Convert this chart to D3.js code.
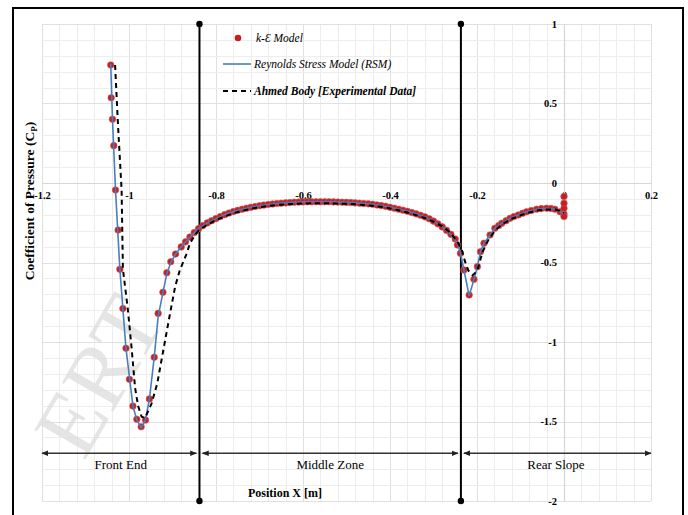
<!DOCTYPE html>
<meta charset="utf-8">
<style>
body { margin: 0; background: #fff; }
text { font-family: "Liberation Serif", "Times New Roman", serif; fill: #000; }
.grid line { stroke: #ededed; shape-rendering: crispEdges; }
.grid line.major { stroke: #e0e0e0; }
.axis path { stroke: #d6d6d6; stroke-width: 1.2px; }
.axis .tick text { font-size: 10.5px; font-weight: bold; }
.zone-label { font-size: 13px; }
.legend text { font-size: 11.5px; font-style: italic; }
</style>
<svg width="688" height="515"></svg>
<script src="https://d3js.org/d3.v7.min.js"></script>
<script>

var svg = d3.select("svg");

// tick labels
var xTicks = [-1.2, -1, -0.8, -0.6, -0.4, -0.2, 0, 0.2];
var yTicks = [1, 0.5, 0, -0.5, -1, -1.5, -2];

// zones of the body (x in m)
var zoneNames = ["Front End", "Middle Zone", "Rear Slope"];
var zoneEdges = [-1.2, -0.838, -0.237, 0.2];

// k-epsilon model (dots)
var keX = [-1.042, -1.041, -1.038, -1.035, -1.031, -1.025, -1.021, -1.014, -1.007, -0.999,
  -0.991, -0.982, -0.972, -0.962, -0.953, -0.942, -0.933, -0.922, -0.913, -0.904, -0.893,
  -0.88, -0.87, -0.86, -0.85, -0.84, -0.83, -0.82, -0.81, -0.80, -0.79, -0.78, -0.77, -0.76,
  -0.75, -0.74, -0.73, -0.72, -0.71, -0.70, -0.69, -0.68, -0.67, -0.66, -0.65, -0.64, -0.63,
  -0.62, -0.61, -0.60, -0.59, -0.58, -0.57, -0.56, -0.55, -0.54, -0.53, -0.52, -0.51, -0.50,
  -0.49, -0.48, -0.47, -0.46, -0.45, -0.44, -0.43, -0.42, -0.41, -0.40, -0.39, -0.38, -0.37,
  -0.36, -0.35, -0.34, -0.33, -0.32, -0.31, -0.30, -0.29, -0.28, -0.27, -0.26, -0.25, -0.245,
  -0.238, -0.23, -0.218, -0.207, -0.199, -0.192, -0.184, -0.17, -0.159, -0.15, -0.143, -0.133,
  -0.124, -0.115, -0.105, -0.095, -0.086, -0.075, -0.063, -0.052, -0.04, -0.03, -0.021, -0.009,
  0, 0, 0, 0, 0];
var keCp = [0.742, 0.536, 0.401, 0.235, -0.044, -0.296, -0.543, -0.79, -1.039, -1.235,
  -1.403, -1.486, -1.533, -1.491, -1.358, -1.096, -0.82, -0.687, -0.564, -0.495, -0.447,
  -0.402, -0.370, -0.340, -0.312, -0.287, -0.268, -0.251, -0.237, -0.224, -0.211, -0.199, -0.189, -0.180,
  -0.172, -0.165, -0.159, -0.153, -0.148, -0.143, -0.139, -0.135, -0.132, -0.129, -0.127, -0.125, -0.123,
  -0.121, -0.120, -0.119, -0.118, -0.118, -0.118, -0.118, -0.118, -0.118, -0.119, -0.120, -0.121, -0.122,
  -0.123, -0.125, -0.127, -0.129, -0.131, -0.134, -0.138, -0.142, -0.147, -0.153, -0.159, -0.165, -0.171,
  -0.178, -0.186, -0.194, -0.203, -0.213, -0.225, -0.240, -0.257, -0.276, -0.298, -0.323, -0.352, -0.39,
  -0.442, -0.547, -0.704, -0.606, -0.526, -0.432, -0.379, -0.327, -0.285, -0.268, -0.253, -0.237,
  -0.222, -0.211, -0.201, -0.190, -0.181, -0.173, -0.165, -0.161, -0.159, -0.160, -0.165, -0.181,
  -0.195, -0.211, -0.159, -0.127, -0.085];

// Reynolds Stress Model (solid line)
var rsmX = [-1.042, -1.038, -1.031, -1.021, -1.007, -0.991, -0.982, -0.972, -0.962, -0.953,
  -0.942, -0.933, -0.922, -0.913, -0.904, -0.893, -0.88, -0.86, -0.84, -0.82, -0.80, -0.78,
  -0.76, -0.74, -0.72, -0.70, -0.68, -0.66, -0.64, -0.62, -0.60, -0.58, -0.56, -0.54, -0.52,
  -0.50, -0.48, -0.46, -0.44, -0.42, -0.40, -0.38, -0.36, -0.34, -0.32, -0.30, -0.28, -0.26,
  -0.245, -0.238, -0.23, -0.218, -0.207, -0.199, -0.192, -0.184, -0.17, -0.159, -0.143, -0.124,
  -0.105, -0.086, -0.063, -0.04, -0.021, -0.009, 0];
var rsmCp = [0.75, 0.40, -0.044, -0.543, -1.039, -1.403, -1.49, -1.54, -1.49, -1.358,
  -1.096, -0.84, -0.69, -0.57, -0.50, -0.447, -0.402, -0.34, -0.287, -0.251, -0.224, -0.199,
  -0.18, -0.165, -0.153, -0.143, -0.135, -0.129, -0.125, -0.121, -0.119, -0.118, -0.118, -0.118, -0.120,
  -0.122, -0.125, -0.129, -0.134, -0.142, -0.153, -0.165, -0.178, -0.194, -0.213, -0.240, -0.276, -0.323,
  -0.38, -0.44, -0.547, -0.71, -0.606, -0.526, -0.432, -0.379, -0.327, -0.285, -0.253, -0.222,
  -0.201, -0.181, -0.165, -0.159, -0.165, -0.181, -0.195];

// Ahmed body experimental data (dashed line)
var expX = [-1.032, -1.025, -1.017, -1.014, -1.003, -0.994, -0.986, -0.979, -0.971, -0.963,
  -0.948, -0.935, -0.921, -0.907, -0.894, -0.883, -0.867, -0.86, -0.848, -0.84, -0.82, -0.80,
  -0.78, -0.76, -0.74, -0.72, -0.70, -0.68, -0.66, -0.64, -0.62, -0.60, -0.58, -0.56, -0.54,
  -0.52, -0.50, -0.48, -0.46, -0.44, -0.42, -0.40, -0.38, -0.36, -0.34, -0.32, -0.30, -0.28,
  -0.26, -0.245, -0.235, -0.228, -0.22, -0.21, -0.20, -0.194, -0.188, -0.18, -0.17, -0.155,
  -0.14, -0.12, -0.10, -0.08, -0.06, -0.04, -0.02, -0.01, 0];
var expCp = [0.742, 0.35, -0.044, -0.541, -0.786, -1.038, -1.289, -1.403, -1.47, -1.478,
  -1.386, -1.26, -1.05, -0.841, -0.652, -0.547, -0.442, -0.379, -0.327, -0.298, -0.262, -0.233,
  -0.21, -0.19, -0.175, -0.162, -0.152, -0.144, -0.138, -0.134, -0.131, -0.129, -0.128, -0.128, -0.128,
  -0.129, -0.131, -0.134, -0.138, -0.143, -0.15, -0.16, -0.172, -0.186, -0.202, -0.22, -0.243, -0.272,
  -0.315, -0.37, -0.42, -0.49, -0.55, -0.58, -0.555, -0.50, -0.44, -0.39, -0.34, -0.29,
  -0.255, -0.225, -0.203, -0.185, -0.172, -0.166, -0.167, -0.175, -0.19];

var legendNames = ["k-\u0190 Model", "Reynolds Stress Model (RSM)", "Ahmed Body [Experimental Data]"];

var x = d3.scaleLinear().domain([-1.2, 0.2]).range([42, 651]);
var y = d3.scaleLinear().domain([-2, 1]).range([501, 24]);

function zip(xs, ys) { return xs.map(function(v, i) { return [v, ys[i]]; }); }

// grid
var gx = d3.range(0, 36).map(function(i) { return Math.round((-1.2 + i * 0.04) * 100) / 100; });
var gy = d3.range(0, 31).map(function(i) { return Math.round((-2 + i * 0.1) * 10) / 10; });
var grid = svg.append("g").attr("class", "grid");
grid.selectAll(".vx").data(gx).enter().append("line")
  .attr("class", function(d) { return Math.abs(Math.round(d * 5) - d * 5) < 1e-6 ? "major" : null; })
  .attr("x1", function(d) { return Math.round(x(d)) + 0.5; })
  .attr("x2", function(d) { return Math.round(x(d)) + 0.5; })
  .attr("y1", y(1)).attr("y2", y(-2));
grid.selectAll(".hy").data(gy).enter().append("line")
  .attr("class", function(d) { return Math.abs(Math.round(d * 2) - d * 2) < 1e-6 ? "major" : null; })
  .attr("y1", function(d) { return Math.round(y(d)) + 0.5; })
  .attr("y2", function(d) { return Math.round(y(d)) + 0.5; })
  .attr("x1", x(-1.2)).attr("x2", x(0.2));

// watermark
svg.append("text")
  .attr("transform", "translate(84,462) rotate(-60)")
  .style("font-size", "90px")
  .style("fill", "#dcdcdc")
  .style("fill-opacity", 0.75)
  .text("ERT");

// axes through the origin
svg.append("g").attr("class", "axis")
  .attr("transform", "translate(0," + y(0) + ")")
  .call(d3.axisBottom(x).tickValues(xTicks).tickSize(0).tickPadding(9)
    .tickFormat(function(d) { return String(d); }));
svg.append("g").attr("class", "axis")
  .attr("transform", "translate(" + x(0) + ",0)")
  .call(d3.axisLeft(y).tickValues(yTicks).tickSize(0).tickPadding(7)
    .tickFormat(function(d) { return String(d); }));

// zone divider lines
var dividers = zoneEdges.slice(1, 3);
svg.selectAll(".divider").data(dividers).enter().append("line")
  .attr("x1", function(d) { return x(d); }).attr("x2", function(d) { return x(d); })
  .attr("y1", y(1)).attr("y2", y(-2))
  .style("stroke", "#000").style("stroke-width", 2);
dividers.forEach(function(d) {
  [1, -2].forEach(function(v) {
    svg.append("circle").attr("cx", x(d)).attr("cy", y(v)).attr("r", 3.2).style("fill", "#000");
  });
});

// zone arrows
var defs = svg.append("defs");
defs.append("marker").attr("id", "ah").attr("viewBox", "0 0 10 10")
  .attr("refX", 9).attr("refY", 5).attr("markerWidth", 7).attr("markerHeight", 7)
  .attr("orient", "auto-start-reverse").attr("markerUnits", "userSpaceOnUse")
  .append("path").attr("d", "M0,1L10,5L0,9Z").style("fill", "#222");
zoneNames.forEach(function(name, i) {
  var a = x(zoneEdges[i]) + (i === 0 ? 0 : 3), b = x(zoneEdges[i + 1]) - (i === 2 ? 0 : 3);
  svg.append("line").attr("x1", a).attr("x2", b).attr("y1", y(-1.7)).attr("y2", y(-1.7))
    .style("stroke", "#333").style("stroke-width", 1.5)
    .attr("marker-start", "url(#ah)").attr("marker-end", "url(#ah)");
  svg.append("text").attr("class", "zone-label")
    .attr("x", (x(zoneEdges[i]) + x(zoneEdges[i + 1])) / 2).attr("y", y(-1.7) + 16)
    .attr("text-anchor", "middle").text(name);
});

// series
svg.append("g").selectAll("circle").data(zip(keX, keCp)).enter().append("circle")
  .attr("cx", function(d) { return x(d[0]); })
  .attr("cy", function(d) { return y(d[1]); })
  .attr("r", 3.3)
  .style("fill", "#c41f22").style("stroke", "#d85a5a").style("stroke-width", 0.6);

var line = d3.line().x(function(d) { return x(d[0]); }).y(function(d) { return y(d[1]); });
svg.append("path").datum(zip(rsmX, rsmCp)).attr("d", line)
  .style("fill", "none").style("stroke", "#4a7ebb").style("stroke-width", 1.6);
svg.append("path").datum(zip(expX, expCp)).attr("d", line)
  .style("fill", "none").style("stroke", "#000").style("stroke-width", 2)
  .style("stroke-dasharray", "5,4");

// legend
var lg = svg.append("g").attr("class", "legend");
lg.append("circle").attr("cx", 238).attr("cy", 38).attr("r", 3.3).style("fill", "#c41f22");
lg.append("line").attr("x1", 223).attr("x2", 251).attr("y1", 64).attr("y2", 64)
  .style("stroke", "#4a7ebb").style("stroke-width", 1.6);
lg.append("line").attr("x1", 223).attr("x2", 251).attr("y1", 91).attr("y2", 91)
  .style("stroke", "#000").style("stroke-width", 2).style("stroke-dasharray", "5,4");
lg.selectAll("text").data(legendNames).enter().append("text")
  .attr("x", function(d, i) { return i === 0 ? 256 : 254; })
  .attr("y", function(d, i) { return [42, 68, 95][i]; })
  .style("font-weight", function(d, i) { return i === 2 ? "bold" : "normal"; })
  .text(function(d) { return d; });

// axis titles
svg.append("text").attr("x", 285).attr("y", 497).attr("text-anchor", "middle")
  .style("font-size", "12px").style("font-weight", "bold").text("Position X [m]");
var yt = svg.append("text").attr("transform", "translate(34,201) rotate(-90)")
  .attr("text-anchor", "middle").style("font-size", "13.5px").style("font-weight", "bold");
yt.append("tspan").text("Coefficient of Pressure (C");
yt.append("tspan").attr("dy", 3).style("font-size", "9px").text("P");
yt.append("tspan").attr("dy", -3).text(")");

// frame
svg.append("rect").attr("x", 13).attr("y", 8).attr("width", 670).attr("height", 520)
  .style("fill", "none").style("stroke", "#000").style("stroke-width", 2);

</script>
